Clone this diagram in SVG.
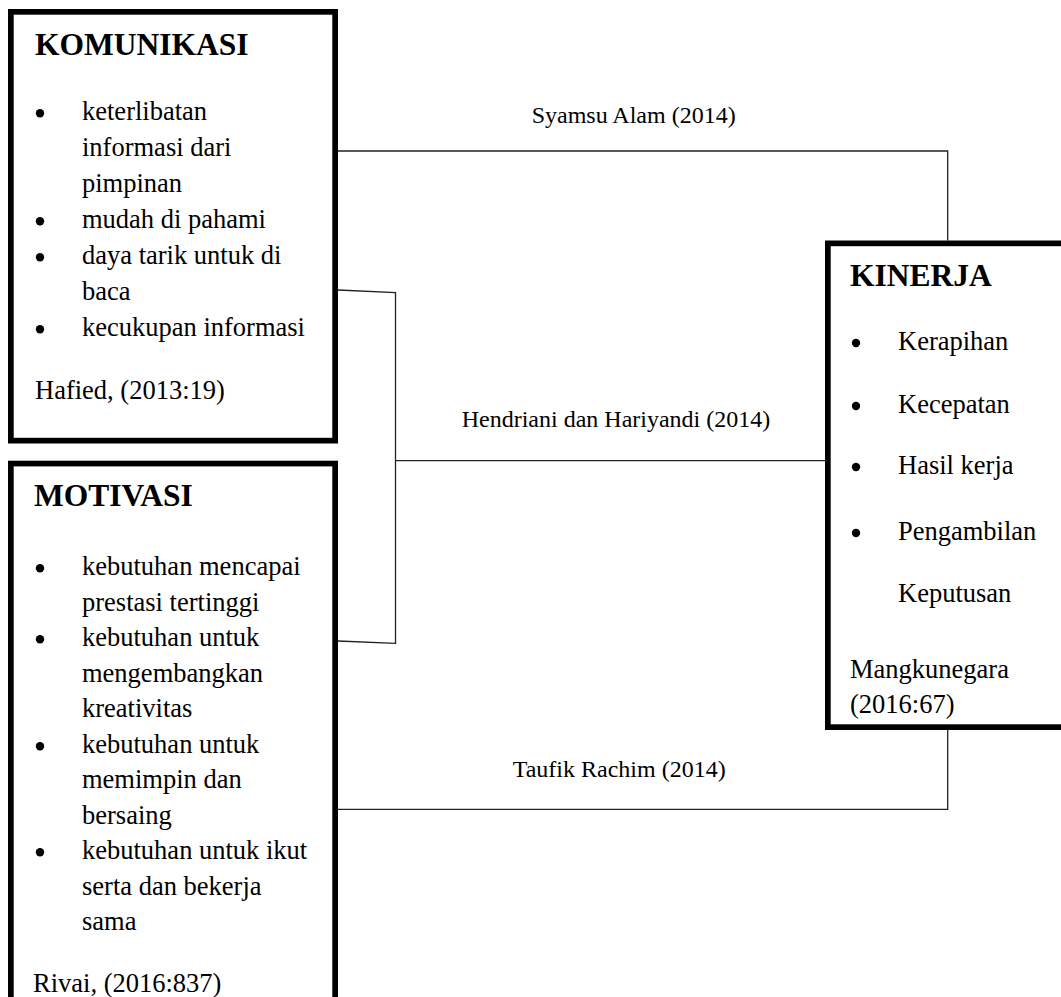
<svg xmlns="http://www.w3.org/2000/svg" width="1061" height="997" viewBox="0 0 1061 997">
<style>
.box{fill:#fff;stroke:#000;stroke-width:5.7}
.conn{fill:none;stroke:#222;stroke-width:1.3}
text{font-family:"Liberation Serif","Times New Roman",serif;fill:#000}
.title{font-size:31.5px;font-weight:bold}
.body{font-size:26.5px}
.lbl{font-size:24px}
.dot{fill:#000}
</style>
<rect width="1061" height="997" fill="#fff"/>
<g id="connectors">
<path class="conn" d="M338,151 H947.7 V240.5"/>
<path class="conn" d="M338,290 L395.5,292.5 L395.5,643.3 L338,641"/>
<path class="conn" d="M395.5,460.7 H825"/>
<path class="conn" d="M338,809.3 H947.7 V730"/>
<text class="lbl" x="531.7" y="123.3">Syamsu Alam (2014)</text>
<text class="lbl" x="461.7" y="426.7">Hendriani dan Hariyandi (2014)</text>
<text class="lbl" x="512.7" y="776.7">Taufik Rachim (2014)</text>
</g>
<g id="komunikasi">
<rect class="box" x="10.85" y="11.85" width="324.3" height="428.8"/>
<text class="title" x="35" y="55">KOMUNIKASI</text>
<circle class="dot" cx="40" cy="113.3" r="4.2"/>
<circle class="dot" cx="40" cy="221.3" r="4.2"/>
<circle class="dot" cx="40" cy="257.3" r="4.2"/>
<circle class="dot" cx="40" cy="329.3" r="4.2"/>
<text class="body" x="82" y="120">keterlibatan</text>
<text class="body" x="82" y="156">informasi dari</text>
<text class="body" x="82" y="192">pimpinan</text>
<text class="body" x="82" y="228">mudah di pahami</text>
<text class="body" x="82" y="264">daya tarik untuk di</text>
<text class="body" x="82" y="300">baca</text>
<text class="body" x="82" y="336">kecukupan informasi</text>
<text class="body" x="35" y="399">Hafied, (2013:19)</text>
</g>
<g id="motivasi">
<rect class="box" x="10.85" y="463.55" width="324.3" height="600"/>
<text class="title" x="34" y="505.7">MOTIVASI</text>
<circle class="dot" cx="40" cy="568.3" r="4.2"/>
<circle class="dot" cx="40" cy="639.3" r="4.2"/>
<circle class="dot" cx="40" cy="746.3" r="4.2"/>
<circle class="dot" cx="40" cy="852.3" r="4.2"/>
<text class="body" x="82" y="575">kebutuhan mencapai</text>
<text class="body" x="82" y="610.5">prestasi tertinggi</text>
<text class="body" x="82" y="646">kebutuhan untuk</text>
<text class="body" x="82" y="681.5">mengembangkan</text>
<text class="body" x="82" y="717">kreativitas</text>
<text class="body" x="82" y="752.5">kebutuhan untuk</text>
<text class="body" x="82" y="788">memimpin dan</text>
<text class="body" x="82" y="823.5">bersaing</text>
<text class="body" x="82" y="859">kebutuhan untuk ikut</text>
<text class="body" x="82" y="894.5">serta dan bekerja</text>
<text class="body" x="82" y="930">sama</text>
<text class="body" x="33" y="992">Rivai, (2016:837)</text>
</g>
<g id="kinerja">
<rect class="box" x="827.85" y="243.35" width="300" height="483.8"/>
<text class="title" x="850" y="285.7">KINERJA</text>
<circle class="dot" cx="856" cy="343" r="4.2"/>
<circle class="dot" cx="856" cy="406" r="4.2"/>
<circle class="dot" cx="856" cy="467" r="4.2"/>
<circle class="dot" cx="856" cy="533" r="4.2"/>
<text class="body" x="898" y="350">Kerapihan</text>
<text class="body" x="898" y="413">Kecepatan</text>
<text class="body" x="898" y="474">Hasil kerja</text>
<text class="body" x="898" y="540">Pengambilan</text>
<text class="body" x="898" y="602">Keputusan</text>
<text class="body" x="850" y="678.3">Mangkunegara</text>
<text class="body" x="850" y="713">(2016:67)</text>
</g>
</svg>
